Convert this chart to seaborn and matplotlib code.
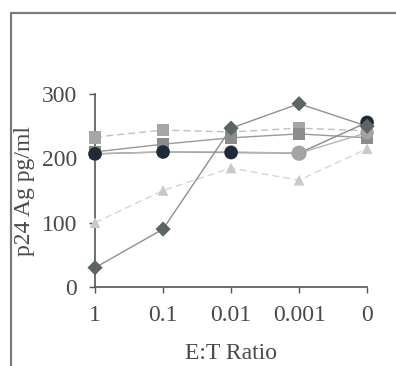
import matplotlib
matplotlib.use("Agg")
import matplotlib.pyplot as plt
import seaborn as sns
import pandas as pd
from matplotlib.lines import Line2D

sns.set_theme(style="white")
plt.rcParams['font.family'] = ['Liberation Serif', 'DejaVu Serif']

categories = ["1", "0.1", "0.01", "0.001", "0"]
diamond_vals = [30, 90, 247, 285, 250]
square_light_vals = [233, 244, 241, 247, 243]
triangle_vals = [100, 150, 185, 166, 215]
square_mid_vals = [210, 222, 232, 238, 232]
circle_gray_vals = [207, 210, 210, 208, 240]
circle_dark_vals = [207, 210, 209, 208, 256]

series = [
    # name, values, marker, marker color, line color, dashed, size, zorder
    ("triangle", triangle_vals, "^", "#c9c9c9", "#d6d6d6", True, 60, 3.0),
    ("square_light", square_light_vals, "s", "#a6a6a6", "#c0c0c0", True, 85, 3.1),
    ("square_mid", square_mid_vals, "s", "#8c8c8c", "#9a9a9a", False, 85, 3.2),
    ("circle_dark", circle_dark_vals, "o", "#1f2b38", "#8a8a8a", False, 95, 3.4),
    ("circle_gray", circle_gray_vals, "o", "#a3a3a3", "#b5b5b5", False, 95, 3.3),
    ("diamond", diamond_vals, "D", "#5c6466", "#8f8f8f", False, 60, 3.6),
]

fig = plt.figure(figsize=(3.96, 3.66), dpi=100)
ax = fig.add_axes([0.240, 0.216, 0.687, 0.527])

xpos = list(range(len(categories)))
for name, vals, mk, mc, lc, dashed, s, z in series:
    df = pd.DataFrame({"x": xpos, "y": vals})
    sns.lineplot(data=df, x="x", y="y", ax=ax, color=lc, linewidth=1.0,
                 linestyle=(0, (5, 3)) if dashed else "-", zorder=2)
for name, vals, mk, mc, lc, dashed, s, z in series:
    df = pd.DataFrame({"x": xpos, "y": vals})
    if name == "circle_gray":
        # the grey circle is only visible where it is not covered by the dark one
        top = df[df["x"] == 3]
        sns.scatterplot(data=top, x="x", y="y", ax=ax, marker=mk, color=mc, s=s + 25,
                        edgecolor="none", zorder=3.5, clip_on=False)
    sns.scatterplot(data=df, x="x", y="y", ax=ax, marker=mk, color=mc, s=s,
                    edgecolor="none", zorder=z, clip_on=False)

ax.set_xlim(0, 4)
ax.set_ylim(0, 300)
ax.set_xticks(xpos)
ax.set_xticklabels(categories)
ax.set_yticks([0, 100, 200, 300])
for sp in ["top", "right"]:
    ax.spines[sp].set_visible(False)
for sp in ["left", "bottom"]:
    ax.spines[sp].set_color("#555555")
    ax.spines[sp].set_linewidth(1.2)
ax.tick_params(axis="both", direction="out", length=4, width=1, color="#555555",
               labelsize=17, labelcolor="#4a4a4a", bottom=True, left=True)
ax.tick_params(axis="x", pad=9)
ax.tick_params(axis="y", pad=9)
ax.set_xlabel("E:T Ratio", fontsize=17, color="#4a4a4a", labelpad=12)
ax.set_ylabel("p24 Ag pg/ml", fontsize=17, color="#4a4a4a", labelpad=5)

# outer frame (top and left)
fig.add_artist(Line2D([11/396, 1.0], [1-13/366, 1-13/366], transform=fig.transFigure,
                      color="#7a7a7a", linewidth=1.6))
fig.add_artist(Line2D([11/396, 11/396], [0, 1-13/366], transform=fig.transFigure,
                      color="#7a7a7a", linewidth=1.6))

fig.savefig("out.png", dpi=100)
